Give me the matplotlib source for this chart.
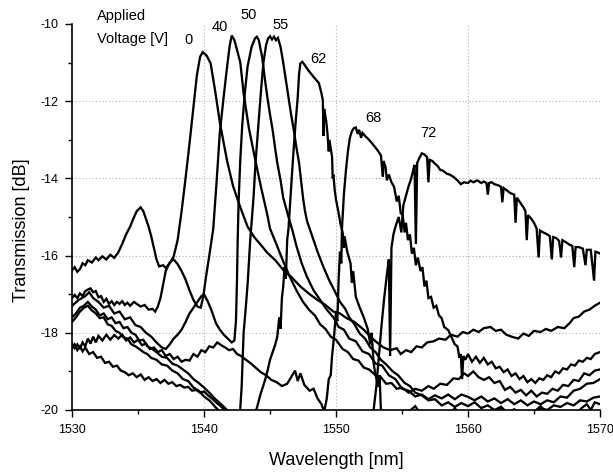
import matplotlib
matplotlib.use("Agg")
import matplotlib.pyplot as plt
from matplotlib.ticker import MultipleLocator

plt.rcParams['font.family'] = ['Liberation Sans', 'DejaVu Sans']
plt.rcParams['axes.unicode_minus'] = False

# ---------------- data (wavelength nm, transmission dB) ----------------
curve_0v = [(1530.0,-16.38),(1530.2,-16.30),(1530.4,-16.42),(1530.6,-16.35),(1530.8,-16.20),(1531.0,-16.25),(1531.2,-16.12),(1531.5,-16.18),(1531.8,-16.05),(1532.0,-16.12),(1532.3,-16.02),(1532.6,-16.10),(1532.9,-15.98),(1533.2,-16.06),(1533.5,-15.92),(1533.8,-15.70),(1534.1,-15.45),(1534.4,-15.25),(1534.7,-15.00),(1534.9,-14.85),(1535.2,-14.75),(1535.4,-14.85),(1535.6,-15.05),(1535.8,-15.25),(1536.0,-15.50),(1536.2,-15.80),(1536.4,-16.10),(1536.6,-16.28),(1536.9,-16.25),(1537.1,-16.32),(1537.4,-16.20),(1537.7,-16.02),(1538.0,-15.60),(1538.3,-14.85),(1538.6,-14.00),(1538.9,-13.10),(1539.2,-12.15),(1539.45,-11.35),(1539.7,-10.85),(1539.9,-10.73),(1540.2,-10.82),(1540.5,-11.02),(1540.85,-11.75),(1541.2,-12.55),(1541.5,-13.10),(1541.75,-13.55),(1542.2,-14.20),(1542.75,-14.75),(1543.3,-15.25),(1543.8,-15.52),(1544.3,-15.72),(1544.8,-15.93),(1545.4,-16.12),(1546.0,-16.37),(1546.6,-16.55),(1547.3,-16.80),(1548.0,-17.00),(1548.6,-17.15),(1549.2,-17.28),(1549.8,-17.45),(1550.3,-17.50),(1550.8,-17.62),(1551.4,-17.72),(1552.1,-17.92),(1552.6,-18.10),(1553.1,-18.25),(1553.6,-18.38),(1554.1,-18.45),(1554.6,-18.40),(1554.9,-18.55),(1555.3,-18.45),(1555.7,-18.50),(1556.1,-18.35),(1556.5,-18.38),(1556.9,-18.25),(1557.4,-18.22),(1557.8,-18.15),(1558.3,-18.18),(1558.7,-18.05),(1559.2,-18.10),(1559.6,-17.98),(1560.0,-18.02),(1560.4,-17.92),(1560.8,-17.98),(1561.2,-17.88),(1561.7,-17.85),(1562.1,-17.95),(1562.5,-17.92),(1562.9,-18.05),(1563.3,-18.10),(1563.8,-18.15),(1564.2,-18.02),(1564.6,-18.08),(1565.0,-17.95),(1565.5,-17.98),(1565.9,-17.90),(1566.3,-17.95),(1566.8,-17.85),(1567.3,-17.88),(1567.7,-17.75),(1568.0,-17.62),(1568.4,-17.58),(1568.8,-17.45),(1569.2,-17.40),(1569.6,-17.30),(1570.0,-17.22)]

curve_40v = [(1530.0,-17.10),(1530.2,-17.02),(1530.4,-17.10),(1530.6,-16.98),(1530.8,-17.05),(1531.0,-16.92),(1531.2,-16.88),(1531.4,-16.85),(1531.6,-16.95),(1531.8,-16.92),(1532.0,-17.08),(1532.2,-17.05),(1532.4,-17.20),(1532.6,-17.12),(1532.8,-17.25),(1533.0,-17.18),(1533.2,-17.28),(1533.4,-17.20),(1533.6,-17.25),(1533.8,-17.18),(1534.0,-17.28),(1534.2,-17.22),(1534.4,-17.30),(1534.7,-17.20),(1534.9,-17.25),(1535.2,-17.32),(1535.5,-17.28),(1535.8,-17.40),(1536.1,-17.38),(1536.3,-17.45),(1536.5,-17.32),(1536.7,-17.10),(1536.9,-16.75),(1537.1,-16.40),(1537.4,-16.18),(1537.7,-16.10),(1538.0,-16.22),(1538.3,-16.40),(1538.6,-16.62),(1538.9,-16.90),(1539.2,-17.15),(1539.5,-17.32),(1539.75,-17.35),(1539.95,-17.05),(1540.15,-16.55),(1540.4,-16.00),(1540.7,-15.30),(1540.95,-14.10),(1541.2,-12.80),(1541.5,-11.85),(1541.75,-11.10),(1541.95,-10.55),(1542.1,-10.30),(1542.3,-10.42),(1542.5,-10.67),(1542.75,-11.00),(1543.0,-11.80),(1543.4,-12.70),(1543.9,-13.55),(1544.3,-14.20),(1544.8,-14.95),(1545.0,-15.30),(1545.5,-15.72),(1546.0,-16.15),(1546.5,-16.55),(1547.0,-16.90),(1547.5,-17.20),(1548.0,-17.42),(1548.4,-17.55),(1548.8,-17.78),(1549.2,-17.90),(1549.6,-18.10),(1550.0,-18.18),(1550.5,-18.42),(1550.9,-18.50),(1551.3,-18.68),(1551.7,-18.72),(1552.1,-18.90),(1552.5,-18.95),(1553.0,-19.10),(1553.4,-19.15),(1553.8,-19.32),(1554.2,-19.30),(1554.6,-19.45),(1555.0,-19.42),(1555.5,-19.55),(1556.0,-19.45),(1556.5,-19.50),(1557.0,-19.38),(1557.4,-19.45),(1557.9,-19.32),(1558.4,-19.35),(1558.9,-19.18),(1559.3,-19.20),(1559.7,-19.05),(1560.0,-19.12),(1560.4,-19.00),(1560.8,-19.15),(1561.2,-19.22),(1561.6,-19.15),(1562.0,-19.30),(1562.4,-19.25),(1562.8,-19.48),(1563.2,-19.40),(1563.6,-19.55),(1564.0,-19.48),(1564.4,-19.62),(1564.8,-19.50),(1565.2,-19.65),(1565.6,-19.55),(1566.0,-19.58),(1566.4,-19.45),(1566.8,-19.50),(1567.2,-19.35),(1567.6,-19.38),(1568.0,-19.22),(1568.4,-19.25),(1568.8,-19.05),(1569.2,-19.10),(1569.6,-18.98),(1570.0,-18.95)]

curve_50v = [(1530.0,-17.30),(1530.5,-17.15),(1531.0,-17.05),(1531.3,-16.95),(1531.6,-17.10),(1532.0,-17.20),(1532.4,-17.35),(1532.8,-17.30),(1533.2,-17.50),(1533.6,-17.45),(1534.0,-17.65),(1534.4,-17.60),(1534.8,-17.80),(1535.2,-17.85),(1535.6,-18.00),(1536.0,-18.10),(1536.4,-18.25),(1536.8,-18.38),(1537.1,-18.42),(1537.4,-18.30),(1537.7,-18.15),(1538.0,-18.05),(1538.3,-17.92),(1538.6,-17.72),(1538.9,-17.50),(1539.2,-17.35),(1539.5,-17.20),(1539.8,-17.05),(1540.0,-17.00),(1540.3,-17.20),(1540.6,-17.45),(1540.9,-17.75),(1541.2,-17.92),(1541.5,-18.05),(1541.8,-18.15),(1542.1,-18.25),(1542.3,-18.20),(1542.42,-17.70),(1542.5,-16.60),(1542.55,-15.60),(1542.62,-14.60),(1542.75,-13.50),(1542.9,-12.60),(1543.1,-11.75),(1543.3,-11.10),(1543.6,-10.60),(1543.85,-10.38),(1544.0,-10.33),(1544.15,-10.42),(1544.4,-10.85),(1544.6,-11.40),(1544.8,-11.90),(1545.0,-12.35),(1545.2,-12.75),(1545.4,-13.25),(1545.55,-13.60),(1545.8,-14.05),(1546.0,-14.50),(1546.2,-14.75),(1546.4,-15.00),(1546.7,-15.35),(1547.0,-15.75),(1547.4,-16.20),(1547.8,-16.55),(1548.3,-16.90),(1548.8,-17.15),(1549.3,-17.40),(1549.8,-17.60),(1550.2,-17.85),(1550.6,-17.92),(1551.0,-18.15),(1551.5,-18.22),(1552.0,-18.48),(1552.5,-18.55),(1553.0,-18.80),(1553.5,-18.85),(1554.0,-19.10),(1554.5,-19.20),(1555.0,-19.45),(1555.5,-19.50),(1556.0,-19.65),(1556.5,-19.60),(1557.0,-19.72),(1557.5,-19.62),(1558.0,-19.70),(1558.5,-19.60),(1559.0,-19.72),(1559.5,-19.60),(1560.0,-19.66),(1560.5,-19.75),(1561.0,-19.65),(1561.5,-19.78),(1562.0,-19.70),(1562.5,-19.82),(1563.0,-19.72),(1563.5,-19.85),(1564.0,-19.75),(1564.5,-19.88),(1565.0,-19.78),(1565.5,-19.85),(1566.0,-19.75),(1566.5,-19.80),(1567.0,-19.65),(1567.5,-19.68),(1568.0,-19.50),(1568.5,-19.45),(1569.0,-19.32),(1569.5,-19.30),(1570.0,-19.20)]

curve_55v = [(1530.0,-17.60),(1530.3,-17.50),(1530.6,-17.35),(1530.9,-17.30),(1531.2,-17.20),(1531.5,-17.32),(1531.8,-17.40),(1532.1,-17.55),(1532.4,-17.50),(1532.7,-17.65),(1533.0,-17.60),(1533.3,-17.75),(1533.6,-17.72),(1533.9,-17.88),(1534.2,-17.85),(1534.5,-18.00),(1534.8,-18.05),(1535.1,-18.20),(1535.4,-18.18),(1535.7,-18.35),(1536.0,-18.40),(1536.4,-18.50),(1536.8,-18.62),(1537.2,-18.65),(1537.6,-18.80),(1538.0,-18.85),(1538.4,-18.95),(1538.8,-19.05),(1539.2,-19.20),(1539.6,-19.30),(1540.0,-19.42),(1540.4,-19.55),(1540.8,-19.70),(1541.2,-19.82),(1541.6,-19.95),(1542.0,-20.10),(1542.4,-20.25),(1542.7,-20.20),(1542.85,-19.40),(1543.0,-18.00),(1543.15,-17.40),(1543.3,-16.75),(1543.5,-15.60),(1543.75,-14.50),(1543.9,-13.60),(1544.1,-12.70),(1544.3,-11.80),(1544.5,-11.00),(1544.7,-10.55),(1544.85,-10.38),(1545.0,-10.32),(1545.15,-10.40),(1545.3,-10.33),(1545.45,-10.42),(1545.6,-10.36),(1545.8,-10.60),(1546.0,-11.00),(1546.2,-11.45),(1546.4,-11.90),(1546.6,-12.35),(1546.8,-12.75),(1547.0,-13.20),(1547.2,-13.60),(1547.35,-14.05),(1547.5,-14.50),(1547.65,-14.85),(1547.8,-15.10),(1548.2,-15.50),(1548.6,-15.90),(1549.05,-16.30),(1549.5,-16.65),(1549.8,-16.85),(1550.3,-17.20),(1550.7,-17.38),(1551.0,-17.60),(1551.4,-17.78),(1551.8,-18.02),(1552.2,-18.15),(1552.6,-18.38),(1553.0,-18.50),(1553.4,-18.70),(1553.8,-18.82),(1554.3,-19.00),(1554.7,-19.10),(1555.2,-19.30),(1555.6,-19.38),(1556.0,-19.55),(1556.5,-19.62),(1557.0,-19.75),(1557.5,-19.72),(1558.0,-19.88),(1558.5,-19.80),(1559.0,-19.92),(1559.5,-19.82),(1560.0,-19.90),(1560.5,-19.80),(1561.0,-19.95),(1561.5,-19.88),(1562.0,-20.00),(1562.5,-19.92),(1563.0,-20.08),(1563.5,-19.98),(1564.0,-20.12),(1564.5,-20.02),(1565.0,-20.08),(1565.5,-19.95),(1566.0,-20.00),(1566.5,-19.88),(1567.0,-19.92),(1567.5,-19.82),(1568.0,-19.88),(1568.5,-19.75),(1569.0,-19.78),(1569.5,-19.68),(1570.0,-19.65)]

curve_62v = [(1530.0,-17.72),(1530.3,-17.60),(1530.6,-17.45),(1530.9,-17.35),(1531.2,-17.30),(1531.5,-17.42),(1531.8,-17.50),(1532.1,-17.62),(1532.4,-17.60),(1532.7,-17.78),(1533.0,-17.82),(1533.3,-17.95),(1533.6,-18.00),(1533.9,-18.12),(1534.2,-18.15),(1534.5,-18.30),(1534.8,-18.35),(1535.1,-18.42),(1535.4,-18.50),(1535.7,-18.55),(1536.0,-18.65),(1536.4,-18.70),(1536.8,-18.82),(1537.2,-18.85),(1537.6,-18.98),(1538.0,-19.05),(1538.4,-19.20),(1538.8,-19.25),(1539.2,-19.42),(1539.6,-19.50),(1540.0,-19.65),(1540.4,-19.75),(1540.8,-19.90),(1541.2,-20.05),(1541.6,-20.20),(1542.5,-20.40),(1543.5,-20.30),(1543.85,-20.10),(1544.0,-19.95),(1544.3,-19.57),(1544.6,-19.25),(1544.8,-19.00),(1545.0,-18.70),(1545.2,-18.50),(1545.4,-18.30),(1545.55,-18.10),(1545.7,-17.60),(1545.8,-17.90),(1545.9,-17.10),(1546.0,-16.80),(1546.1,-16.30),(1546.2,-16.60),(1546.3,-15.60),(1546.4,-15.30),(1546.55,-14.50),(1546.7,-13.70),(1546.8,-13.20),(1546.95,-12.50),(1547.1,-11.90),(1547.2,-11.30),(1547.3,-11.02),(1547.45,-10.98),(1547.6,-11.05),(1547.9,-11.20),(1548.3,-11.37),(1548.7,-11.53),(1548.9,-11.80),(1549.0,-11.97),(1549.05,-12.90),(1549.1,-12.20),(1549.25,-12.50),(1549.35,-12.83),(1549.45,-13.30),(1549.5,-13.00),(1549.7,-13.44),(1549.75,-14.00),(1549.8,-13.90),(1549.9,-14.30),(1550.0,-14.55),(1550.2,-14.90),(1550.35,-15.20),(1550.5,-15.40),(1550.6,-15.80),(1550.65,-15.50),(1550.85,-15.90),(1551.1,-16.20),(1551.2,-16.70),(1551.3,-16.40),(1551.5,-17.07),(1551.8,-17.35),(1552.1,-17.60),(1552.4,-17.90),(1552.6,-18.30),(1552.7,-18.00),(1552.85,-18.80),(1553.0,-19.10),(1553.2,-19.40),(1553.3,-19.10),(1553.4,-20.00),(1553.6,-20.50),(1554.5,-20.30),(1555.5,-20.05),(1556.0,-19.90),(1556.4,-20.10),(1557.0,-20.30),(1558.5,-20.20),(1559.0,-19.95),(1559.4,-20.15),(1560.5,-20.30),(1562.0,-20.10),(1562.5,-19.92),(1563.0,-20.10),(1564.0,-20.25),(1565.0,-20.05),(1565.5,-19.90),(1566.0,-20.10),(1567.0,-20.30),(1568.0,-20.20),(1568.6,-19.95),(1569.0,-19.85),(1569.3,-20.00),(1569.6,-19.80),(1570.0,-19.85)]

curve_68v = [(1530.0,-18.28),(1530.2,-18.40),(1530.4,-18.30),(1530.6,-18.42),(1530.8,-18.25),(1531.0,-18.35),(1531.2,-18.15),(1531.4,-18.28),(1531.6,-18.10),(1531.8,-18.25),(1532.0,-18.08),(1532.3,-18.20),(1532.6,-18.05),(1532.9,-18.18),(1533.2,-18.06),(1533.5,-18.15),(1533.8,-18.05),(1534.1,-18.20),(1534.4,-18.12),(1534.7,-18.25),(1535.0,-18.18),(1535.3,-18.32),(1535.6,-18.28),(1535.9,-18.42),(1536.2,-18.38),(1536.5,-18.50),(1536.8,-18.45),(1537.1,-18.60),(1537.4,-18.55),(1537.7,-18.68),(1538.0,-18.62),(1538.3,-18.75),(1538.6,-18.70),(1538.9,-18.72),(1539.2,-18.55),(1539.5,-18.62),(1539.8,-18.45),(1540.1,-18.50),(1540.4,-18.35),(1540.7,-18.38),(1541.0,-18.25),(1541.3,-18.32),(1541.6,-18.38),(1541.9,-18.45),(1542.2,-18.42),(1542.5,-18.55),(1542.8,-18.60),(1543.1,-18.68),(1543.5,-18.78),(1543.9,-18.90),(1544.3,-19.02),(1544.7,-19.10),(1545.1,-19.22),(1545.5,-19.28),(1545.9,-19.38),(1546.3,-19.32),(1546.6,-19.15),(1546.9,-18.98),(1547.1,-19.25),(1547.3,-19.05),(1547.6,-19.35),(1548.0,-19.50),(1548.3,-19.45),(1548.6,-19.70),(1548.9,-19.85),(1549.1,-20.05),(1549.3,-19.70),(1549.45,-19.20),(1549.6,-19.10),(1549.7,-18.60),(1549.85,-18.10),(1550.0,-17.45),(1550.1,-17.70),(1550.2,-16.60),(1550.3,-15.90),(1550.4,-16.20),(1550.45,-15.30),(1550.6,-14.40),(1550.75,-13.80),(1550.9,-13.30),(1551.05,-12.95),(1551.2,-12.78),(1551.35,-12.70),(1551.5,-12.68),(1551.65,-12.85),(1551.75,-12.74),(1551.9,-12.95),(1552.0,-12.82),(1552.2,-12.90),(1552.5,-13.00),(1552.8,-13.12),(1553.1,-13.25),(1553.4,-13.40),(1553.55,-13.95),(1553.6,-13.55),(1553.75,-13.70),(1553.85,-14.05),(1554.0,-13.90),(1554.2,-14.10),(1554.4,-14.22),(1554.6,-14.60),(1554.75,-14.45),(1554.9,-14.90),(1555.05,-14.95),(1555.2,-15.40),(1555.3,-15.15),(1555.45,-15.60),(1555.6,-15.45),(1555.75,-15.95),(1555.9,-15.80),(1556.05,-16.25),(1556.2,-16.05),(1556.4,-16.40),(1556.55,-16.30),(1556.7,-16.80),(1556.85,-16.65),(1557.0,-17.10),(1557.2,-17.07),(1557.4,-17.35),(1557.6,-17.30),(1557.8,-17.55),(1558.0,-17.62),(1558.2,-17.85),(1558.5,-17.93),(1558.8,-18.15),(1559.0,-18.30),(1559.2,-18.35),(1559.35,-18.65),(1559.45,-18.55),(1559.55,-19.20),(1559.65,-18.60),(1559.8,-18.70),(1560.0,-18.55),(1560.3,-18.75),(1560.6,-18.62),(1560.9,-18.78),(1561.2,-18.65),(1561.5,-18.82),(1561.8,-18.75),(1562.1,-18.92),(1562.4,-18.88),(1562.7,-19.02),(1563.0,-18.95),(1563.3,-19.12),(1563.6,-19.05),(1563.9,-19.20),(1564.2,-19.12),(1564.5,-19.28),(1564.8,-19.20),(1565.1,-19.30),(1565.4,-19.18),(1565.7,-19.22),(1566.0,-19.10),(1566.3,-19.15),(1566.6,-19.00),(1566.9,-19.05),(1567.2,-18.92),(1567.5,-18.95),(1567.8,-18.82),(1568.1,-18.85),(1568.4,-18.72),(1568.7,-18.75),(1569.0,-18.65),(1569.3,-18.68),(1569.6,-18.55),(1570.0,-18.50)]

curve_72v = [(1530.0,-18.40),(1530.2,-18.30),(1530.4,-18.45),(1530.6,-18.35),(1530.8,-18.48),(1531.0,-18.38),(1531.3,-18.55),(1531.6,-18.50),(1531.9,-18.65),(1532.2,-18.62),(1532.5,-18.78),(1532.8,-18.75),(1533.1,-18.88),(1533.4,-18.85),(1533.7,-18.98),(1534.0,-19.02),(1534.3,-19.10),(1534.6,-19.05),(1534.9,-19.15),(1535.2,-19.08),(1535.5,-19.22),(1535.8,-19.15),(1536.1,-19.25),(1536.4,-19.20),(1536.7,-19.30),(1537.0,-19.22),(1537.3,-19.32),(1537.6,-19.28),(1537.9,-19.38),(1538.2,-19.35),(1538.5,-19.42),(1538.8,-19.40),(1539.1,-19.50),(1539.4,-19.48),(1539.7,-19.55),(1540.0,-19.52),(1540.3,-19.62),(1540.6,-19.70),(1540.9,-19.80),(1541.2,-19.88),(1541.5,-19.98),(1541.8,-20.10),(1542.5,-20.30),(1545.0,-20.50),(1550.0,-20.50),(1552.5,-20.30),(1552.85,-20.00),(1553.05,-19.40),(1553.25,-18.60),(1553.45,-17.80),(1553.65,-17.10),(1553.85,-16.50),(1554.0,-16.10),(1554.1,-18.60),(1554.2,-15.80),(1554.35,-15.45),(1554.55,-15.20),(1554.75,-15.00),(1554.95,-15.40),(1555.1,-14.70),(1555.3,-14.45),(1555.5,-14.20),(1555.7,-14.00),(1555.85,-13.78),(1555.95,-13.65),(1556.05,-15.70),(1556.15,-13.60),(1556.3,-13.48),(1556.5,-13.35),(1556.7,-13.38),(1556.9,-13.45),(1557.0,-14.10),(1557.1,-13.52),(1557.3,-13.55),(1557.5,-13.62),(1557.7,-13.68),(1557.9,-13.78),(1558.1,-13.80),(1558.4,-13.88),(1558.6,-13.90),(1558.9,-13.96),(1559.2,-14.05),(1559.45,-14.15),(1559.7,-14.10),(1560.0,-14.12),(1560.2,-14.06),(1560.4,-14.10),(1560.7,-14.05),(1561.0,-14.12),(1561.2,-14.08),(1561.4,-14.12),(1561.5,-14.42),(1561.6,-14.12),(1561.8,-14.10),(1562.0,-14.15),(1562.3,-14.18),(1562.5,-14.22),(1562.6,-14.62),(1562.7,-14.25),(1562.9,-14.30),(1563.2,-14.38),(1563.5,-14.42),(1563.6,-15.15),(1563.7,-14.50),(1564.0,-14.65),(1564.2,-14.75),(1564.35,-14.85),(1564.45,-15.60),(1564.55,-14.95),(1564.8,-15.05),(1565.0,-15.15),(1565.2,-15.30),(1565.35,-16.05),(1565.45,-15.35),(1565.7,-15.40),(1566.0,-15.45),(1566.2,-15.50),(1566.35,-16.10),(1566.45,-15.52),(1566.7,-15.55),(1566.9,-15.62),(1567.05,-16.05),(1567.15,-15.60),(1567.4,-15.65),(1567.7,-15.72),(1567.9,-15.75),(1568.05,-16.30),(1568.15,-15.78),(1568.4,-15.78),(1568.7,-15.82),(1568.9,-16.25),(1569.0,-15.85),(1569.3,-15.85),(1569.55,-16.65),(1569.65,-15.90),(1569.85,-15.92),(1570.0,-15.95)]

curves = [curve_0v, curve_40v, curve_50v, curve_55v, curve_62v, curve_68v, curve_72v]

voltage_labels = ["0", "40", "50", "55", "62", "68", "72"]
label_pos = [(1538.8, -10.41), (1541.2, -10.08), (1543.4, -9.77), (1545.8, -10.03),
             (1548.7, -10.91), (1552.8, -12.44), (1557.0, -12.82)]

x_ticks = [1530, 1540, 1550, 1560, 1570]
y_ticks = [-20, -18, -16, -14, -12, -10]

# ---------------- figure ----------------
fig = plt.figure(figsize=(6.13, 4.73), dpi=100)
ax = fig.add_axes([0.1175, 0.1332, 0.8613, 0.8161])

for c in curves:
    xs = [p[0] for p in c]
    ys = [p[1] for p in c]
    ax.plot(xs, ys, color='black', lw=1.65, solid_joinstyle='miter', zorder=3)

ax.set_xlim(1530, 1570)
ax.set_ylim(-20, -10)

# dotted grid at interior major ticks
for gx in x_ticks[1:-1]:
    ax.axvline(gx, color='#b0b0b0', lw=0.8, ls=(0, (1, 2)), zorder=1)
for gy in y_ticks[1:-1]:
    ax.axhline(gy, color='#b0b0b0', lw=0.8, ls=(0, (1, 2)), zorder=1)

ax.set_xticks(x_ticks)
ax.set_yticks(y_ticks)
ax.set_xticklabels([str(t) for t in x_ticks])
ax.set_yticklabels([str(t) for t in y_ticks])
ax.xaxis.set_minor_locator(MultipleLocator(5))
ax.yaxis.set_minor_locator(MultipleLocator(1))
ax.tick_params(which='major', direction='out', length=5, width=1.0, labelsize=9, pad=5, color='black')
ax.tick_params(which='minor', direction='out', length=3, width=1.0, color='black')

for s in ['top', 'right']:
    ax.spines[s].set_visible(False)
for s in ['left', 'bottom']:
    ax.spines[s].set_linewidth(1.2)

ax.set_xlabel("Wavelength [nm]", fontsize=13)
ax.set_ylabel("Transmission [dB]", fontsize=13)
ax.xaxis.set_label_coords(0.501, -0.11)
ax.yaxis.set_label_coords(-0.08, 0.466)

ax.text(1531.9, -9.79, "Applied", fontsize=10.5, ha='left', va='center')
ax.text(1531.9, -10.38, "Voltage [V]", fontsize=10.5, ha='left', va='center')
for lab, (lx, ly) in zip(voltage_labels, label_pos):
    ax.text(lx, ly, lab, fontsize=10.5, ha='center', va='center')

fig.savefig("out.png", dpi=100)
